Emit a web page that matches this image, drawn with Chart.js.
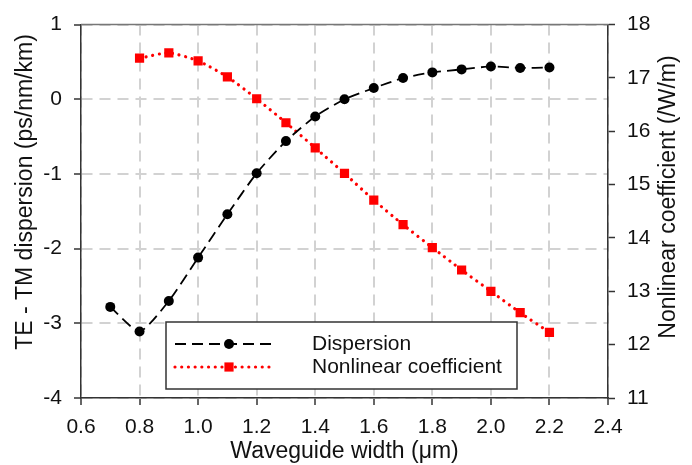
<!DOCTYPE html>
<html>
<head>
<meta charset="utf-8">
<script src="https://cdn.jsdelivr.net/npm/chart.js@4.4.1/dist/chart.umd.min.js"></script>
<style>
  html, body { margin: 0; padding: 0; background: #fff; }
  #wrap { width: 692px; height: 465px; position: relative; }
</style>
</head>
<body>
<div id="wrap"><canvas id="chart"></canvas></div>
<script>
// waveguide width (um)
const dispersionWidths = [0.7, 0.8, 0.9, 1.0, 1.1, 1.2, 1.3, 1.4, 1.5, 1.6, 1.7, 1.8, 1.9, 2.0, 2.1, 2.2];
const dispersionValues = [-2.78, -3.11, -2.70, -2.12, -1.54, -0.99, -0.56, -0.23, 0.0, 0.15, 0.285, 0.36, 0.40, 0.44, 0.42, 0.425];

const nonlinearWidths = [0.8, 0.9, 1.0, 1.1, 1.2, 1.3, 1.4, 1.5, 1.6, 1.7, 1.8, 1.9, 2.0, 2.1, 2.2];
const nonlinearValues = [17.37, 17.47, 17.32, 17.02, 16.61, 16.16, 15.69, 15.21, 14.71, 14.25, 13.82, 13.40, 13.00, 12.60, 12.23];

const xTicks = [0.6, 0.8, 1.0, 1.2, 1.4, 1.6, 1.8, 2.0, 2.2, 2.4];
const leftTicks = [-4, -3, -2, -1, 0, 1];
const rightTicks = [11, 12, 13, 14, 15, 16, 17, 18];

const seriesNames = ['Dispersion', 'Nonlinear coefficient'];
const xTitle = 'Waveguide width (\u03bcm)';
const leftTitle = 'TE - TM dispersion (ps/nm/km)';
const rightTitle = 'Nonlinear coefficient (/W/m)';

const FONT = '"Liberation Sans", Arial, sans-serif';
const AXIS = '#333';
const GRID = '#d2d2d2';

function pairs(xs, ys) {
  return xs.map((x, i) => ({ x: x, y: ys[i] }));
}

// titles, top frame and boxed legend
const extras = {
  id: 'extras',
  afterDraw(chart) {
    const ctx = chart.ctx;
    const a = chart.chartArea;
    ctx.save();

    ctx.strokeStyle = '#777';
    ctx.lineWidth = 1.5;
    ctx.beginPath();
    ctx.moveTo(a.left, a.top);
    ctx.lineTo(a.right, a.top);
    ctx.stroke();

    ctx.fillStyle = '#111';
    ctx.font = '23px ' + FONT;
    ctx.textAlign = 'center';
    ctx.textBaseline = 'middle';
    ctx.fillText(xTitle, (a.left + a.right) / 2, 452);

    ctx.save();
    ctx.translate(26, 192);
    ctx.rotate(-Math.PI / 2);
    ctx.fillText(leftTitle, 0, 0);
    ctx.restore();

    ctx.save();
    ctx.translate(669, 197);
    ctx.rotate(-Math.PI / 2);
    ctx.fillText(rightTitle, 0, 0);
    ctx.restore();

    // legend box
    const bx = 166, by = 322, bw = 351, bh = 67;
    ctx.fillStyle = '#fff';
    ctx.fillRect(bx, by, bw, bh);
    ctx.strokeStyle = AXIS;
    ctx.lineWidth = 1.5;
    ctx.strokeRect(bx, by, bw, bh);

    const rows = [by + 22, by + 45];
    chart.data.datasets.forEach((ds, i) => {
      const y = rows[i];
      ctx.save();
      ctx.strokeStyle = ds.borderColor;
      ctx.lineWidth = ds.borderWidth;
      ctx.lineCap = ds.borderCapStyle || 'butt';
      ctx.setLineDash(ds.borderDash || []);
      ctx.beginPath();
      ctx.moveTo(175, y);
      ctx.lineTo(273, y);
      ctx.stroke();
      ctx.restore();

      ctx.fillStyle = ds.pointBackgroundColor;
      ctx.beginPath();
      if (ds.pointStyle === 'rect') {
        const s = ds.pointRadius * Math.SQRT1_2;
        ctx.rect(229 - s, y - s, 2 * s, 2 * s);
      } else {
        ctx.arc(229, y, ds.pointRadius, 0, Math.PI * 2);
      }
      ctx.fill();

      ctx.fillStyle = '#111';
      ctx.font = '21px ' + FONT;
      ctx.textAlign = 'left';
      ctx.fillText(ds.label, 312, y);
    });

    ctx.restore();
  }
};

const gridOpts = {
  color: GRID,
  lineWidth: 2,
  tickColor: AXIS,
  tickLength: 7,
  tickWidth: 1.5,
  tickBorderDash: []
};
const borderOpts = { color: AXIS, width: 1.5, dash: [11, 7] };

const ctx = document.getElementById('chart').getContext('2d');
const chart = new Chart(ctx, {
  type: 'line',
  data: {
    datasets: [{
      label: seriesNames[0],
      data: pairs(dispersionWidths, dispersionValues),
      yAxisID: 'y',
      borderColor: '#000',
      borderWidth: 1.8,
      borderDash: [11, 6],
      tension: 0.2,
      pointStyle: 'circle',
      pointRadius: 5,
      pointBackgroundColor: '#000',
      pointBorderColor: '#000',
      pointBorderWidth: 0
    }, {
      label: seriesNames[1],
      data: pairs(nonlinearWidths, nonlinearValues),
      yAxisID: 'y2',
      borderColor: '#ff0000',
      borderWidth: 3.2,
      borderDash: [0.01, 6.7],
      borderCapStyle: 'round',
      tension: 0.2,
      pointStyle: 'rect',
      pointRadius: 6.5,
      pointBackgroundColor: '#ff0000',
      pointBorderColor: '#ff0000',
      pointBorderWidth: 0
    }]
  },
  options: {
    responsive: true,
    maintainAspectRatio: false,
    animation: false,
    layout: { padding: { top: 18, left: 0, right: 0, bottom: 0 } },
    plugins: {
      legend: { display: false },
      tooltip: { enabled: false }
    },
    scales: {
      x: {
        type: 'linear',
        min: xTicks[0],
        max: xTicks[xTicks.length - 1],
        afterFit: s => { s.height = 67; },
        afterBuildTicks: s => { s.ticks = xTicks.map(v => ({ value: v })); },
        ticks: {
          padding: 10,
          color: '#111',
          font: { family: FONT, size: 21 },
          maxRotation: 0,
          callback: v => v.toFixed(1)
        },
        grid: gridOpts,
        border: borderOpts
      },
      y: {
        type: 'linear',
        position: 'left',
        min: leftTicks[0],
        max: leftTicks[leftTicks.length - 1],
        afterFit: s => { s.width = 81; },
        afterBuildTicks: s => { s.ticks = leftTicks.map(v => ({ value: v })); },
        ticks: {
          padding: 12,
          color: '#111',
          font: { family: FONT, size: 21 },
          callback: v => String(v)
        },
        grid: gridOpts,
        border: borderOpts
      },
      y2: {
        type: 'linear',
        position: 'right',
        min: rightTicks[0],
        max: rightTicks[rightTicks.length - 1],
        afterFit: s => { s.width = 84; },
        afterBuildTicks: s => { s.ticks = rightTicks.map(v => ({ value: v })); },
        ticks: {
          padding: 12,
          color: '#111',
          font: { family: FONT, size: 21 },
          callback: v => String(v)
        },
        grid: {
          drawOnChartArea: false,
          tickColor: AXIS,
          tickLength: 7,
          tickWidth: 1.5
        },
        border: { color: AXIS, width: 1.5 }
      }
    }
  },
  plugins: [extras]
});
</script>
</body>
</html>
